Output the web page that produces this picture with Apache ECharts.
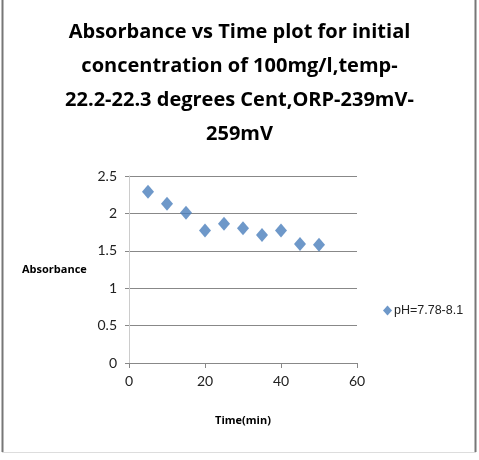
<!DOCTYPE html>
<html><head><meta charset="utf-8">
<script src="https://cdn.jsdelivr.net/npm/echarts@6/dist/echarts.min.js"></script>
<style>html,body{margin:0;padding:0;background:#fff}#c{width:479px;height:460px}</style>
</head><body><div id="c"></div>
<script>
const titleText = "Absorbance vs Time plot for initial\nconcentration of 100mg/l,temp-\n22.2-22.3 degrees Cent,ORP-239mV-\n259mV";
const seriesName = "pH=7.78-8.1";
const timeMin = [5, 10, 15, 20, 25, 30, 35, 40, 45, 50];
const absorbance = [2.29, 2.13, 2.01, 1.77, 1.86, 1.80, 1.71, 1.77, 1.59, 1.58];
const xLabel = "Time(min)";
const yLabel = "Absorbance";

const chart = echarts.init(document.getElementById('c'));
chart.setOption({
  animation: false,
  backgroundColor: '#fff',
  title: {
    text: titleText, left: 'center', top: 10,
    textStyle: {fontFamily: 'Open Sans', fontWeight: 'bold', fontSize: 20, lineHeight: 34, color: '#000'}
  },
  legend: {
    data: [{name: seriesName, icon: 'diamond'}],
    left: 378, top: 299, itemWidth: 9, itemHeight: 10, itemGap: 2,
    textStyle: {fontFamily: 'Liberation Sans', fontSize: 12.5, color: '#222', padding: [0,0,0,-3]}
  },
  grid: {left: 129, right: 122, top: 176, bottom: 97},
  xAxis: {
    type: 'value', min: 0, max: 60, interval: 20,
    name: xLabel, nameLocation: 'middle', nameGap: 52,
    nameTextStyle: {fontFamily: 'Open Sans', fontWeight: 'bold', fontSize: 11, color: '#000'},
    axisLine: {lineStyle: {color: '#888', width: 1}},
    axisTick: {show: true, length: 5, lineStyle: {color: '#888'}},
    axisLabel: {fontFamily: 'Lato', fontSize: 14, color: '#222', margin: 11},
    splitLine: {show: false}
  },
  yAxis: {
    type: 'value', min: 0, max: 2.5, interval: 0.5,
    axisLine: {show: true, lineStyle: {color: '#ccc'}},
    axisTick: {show: true, length: 4, lineStyle: {color: '#888'}},
    axisLabel: {fontFamily: 'Lato', fontSize: 14, color: '#222', margin: 12},
    splitLine: {lineStyle: {color: '#888', width: 1}}
  },
  graphic: [
    {type: 'text', left: 22, top: 264, style: {text: yLabel, font: 'bold 11px "Open Sans"', fill: '#000'}},
    {type: 'line', shape: {x1: 2.5, y1: 0, x2: 2.5, y2: 452}, style: {stroke: '#777', lineWidth: 2}},
    {type: 'line', shape: {x1: 475.5, y1: 0, x2: 475.5, y2: 452}, style: {stroke: '#777', lineWidth: 2}},
    {type: 'line', shape: {x1: 2, y1: 452.5, x2: 476, y2: 452.5}, style: {stroke: '#ddd', lineWidth: 1}}
  ],
  series: [{
    name: seriesName, type: 'scatter', symbol: 'diamond', symbolSize: [12, 14],
    itemStyle: {color: '#4a7ebb'},
    data: timeMin.map((t, i) => [t, absorbance[i]])
  }]
});
</script></body></html>
